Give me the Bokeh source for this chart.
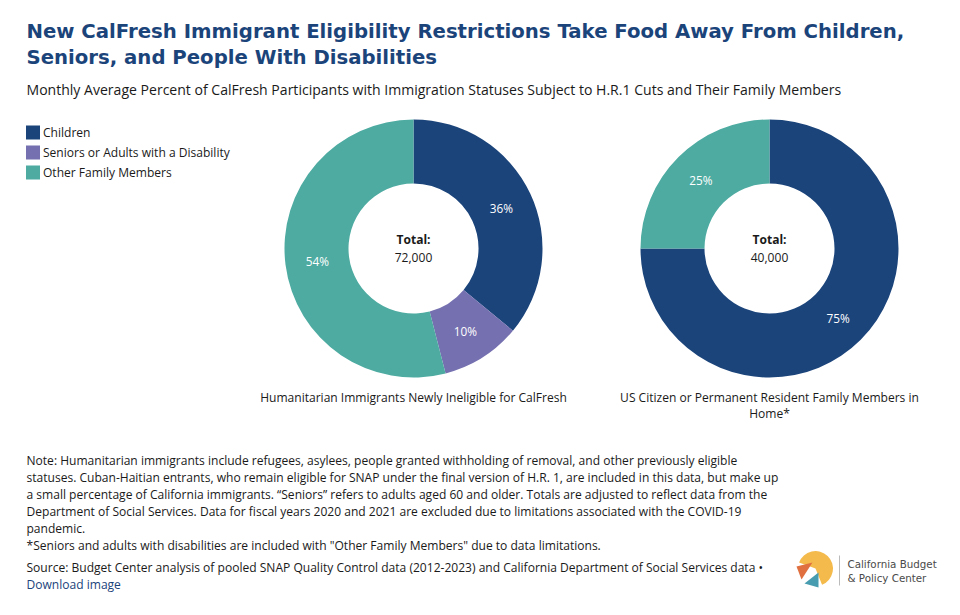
import math
from bokeh.plotting import figure
from bokeh.models import Range1d
from bokeh.core.properties import value
from bokeh.embed import file_html
from bokeh.resources import INLINE

title_lines = ["New CalFresh Immigrant Eligibility Restrictions Take Food Away From Children,",
               "Seniors, and People With Disabilities"]
subtitle = "Monthly Average Percent of CalFresh Participants with Immigration Statuses Subject to H.R.1 Cuts and Their Family Members"
categories = ["Children", "Seniors or Adults with a Disability", "Other Family Members"]
colors = ["#1B447B", "#7570B0", "#4DABA1"]
left_values = [36, 10, 54]
right_categories = ["Children", "Other Family Members"]
right_colors = ["#1B447B", "#4DABA1"]
right_values = [75, 25]
left_total = "72,000"
right_total = "40,000"
note_lines = [
 "Note: Humanitarian immigrants include refugees, asylees, people granted withholding of removal, and other previously eligible",
 "statuses. Cuban-Haitian entrants, who remain eligible for SNAP under the final version of H.R. 1, are included in this data, but make up",
 "a small percentage of California immigrants. “Seniors” refers to adults aged 60 and older. Totals are adjusted to reflect data from the",
 "Department of Social Services. Data for fiscal years 2020 and 2021 are excluded due to limitations associated with the COVID-19",
 "pandemic.",
 "*Seniors and adults with disabilities are included with \"Other Family Members\" due to data limitations.",
]
source = "Source: Budget Center analysis of pooled SNAP Quality Control data (2012-2023) and California Department of Social Services data •"
download = "Download image"

BODY = "Open Sans"
SZ = 12.05
p = figure(width=952, height=607, output_backend="svg", toolbar_location=None,
           x_range=Range1d(1, 953), y_range=Range1d(8, 615), min_border=0,
           outline_line_color=None, background_fill_color="white", border_fill_color="white")
p.axis.visible = False
p.grid.visible = False

def Y(py):
    return 615 - py

def put(x, py, s, size=SZ, color="#1a1a1a", align="left", style="normal", font=BODY):
    p.text([x], [Y(py)], text=[s], text_font=value(font), text_font_size=value(f"{size}px"), text_color=color,
           text_align=align, text_baseline="middle", text_font_style=style)

def donut(cx, cy, values, cols):
    total = sum(values)
    cum = 0
    xs, ys, labs = [], [], []
    starts, ends = [], []
    for v in values:
        a0 = cum / total * 2 * math.pi
        cum += v
        a1 = cum / total * 2 * math.pi
        starts.append(math.pi / 2 - a1)
        ends.append(math.pi / 2 - a0)
        m = (a0 + a1) / 2
        xs.append(cx + 97 * math.sin(m))
        ys.append(Y(cy) - 0.5 + 97 * math.cos(m))
        labs.append(f"{v}%")
    p.annular_wedge(x=[cx] * len(values), y=[Y(cy)] * len(values), inner_radius=65, outer_radius=129,
                    start_angle=starts, end_angle=ends, direction="anticlock",
                    fill_color=cols, line_color=None)
    p.text(xs, ys, text=labs, text_font=value(BODY), text_font_size=value("11.8px"), text_color="white",
           text_align="center", text_baseline="middle")

put(27, 31, title_lines[0], 19.7, "#1B447B", style="bold", font="DejaVu Sans")
put(27, 57, title_lines[1], 19.7, "#1B447B", style="bold", font="DejaVu Sans")
put(27, 89, subtitle, 14.06)

for py, c, s in zip([132, 152, 172], colors, categories):
    p.rect([33.5], [Y(py)], width=14, height=14, fill_color=c, line_color=None)
    put(43.5, py - 0.5, s)

donut(414, 248, left_values, colors)
donut(770, 248, right_values, right_colors)

for cx, tot in [(414, left_total), (770, right_total)]:
    put(cx, 239, "Total:", align="center", style="bold")
    put(cx, 257, tot, align="center")

put(414, 397, "Humanitarian Immigrants Newly Ineligible for CalFresh", align="center")
put(770, 397, "US Citizen or Permanent Resident Family Members in", align="center")
put(770, 413, "Home*", align="center")

for py, s in zip([460, 477, 494, 511, 528, 545], note_lines):
    put(27, py, s)
put(27, 567, source)
put(27, 584, download, color="#1B447B")

# logo
p.wedge([816], [Y(568)], radius=17.5, start_angle=math.radians(-68), end_angle=math.radians(160),
        fill_color="#F4BA4C", line_color=None)
p.patch([797, 813, 802], [Y(566), Y(562), Y(579)], fill_color="#E0703F", line_color=None)
p.patch([805, 819, 819], [Y(583), Y(572), Y(587)], fill_color="#479DAF", line_color=None)
p.segment([840], [Y(555)], [840], [Y(585)], line_color="#bbbbbb", line_width=1)
put(848, 563.5, "California Budget", 10.3, "#4a4a4a", font="DejaVu Sans")
put(848, 577, "& Policy Center", 10.3, "#4a4a4a", font="DejaVu Sans")

open("out.html", "w").write(file_html(p, INLINE))
